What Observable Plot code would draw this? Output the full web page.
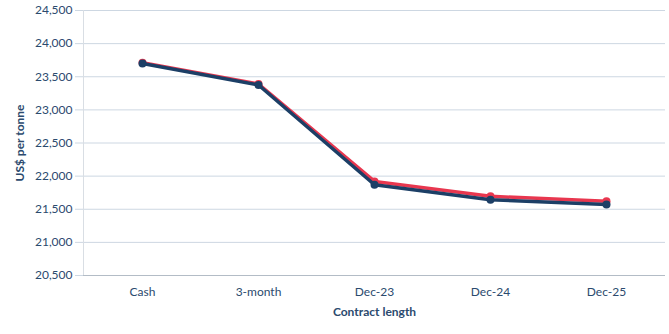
<!DOCTYPE html>
<html>
<head>
<meta charset="utf-8">
<script src="https://cdn.jsdelivr.net/npm/d3@7"></script>
<script src="https://cdn.jsdelivr.net/npm/@observablehq/plot@0.6"></script>
<style>
  html, body { margin: 0; padding: 0; background: #fff; }
  #chart svg { display: block; }
</style>
</head>
<body>
<div id="chart"></div>
<script>
const categories = ["Cash", "3-month", "Dec-23", "Dec-24", "Dec-25"];
const seriesRed = [23710, 23390, 21920, 21695, 21620];
const seriesNavy = [23700, 23375, 21870, 21645, 21570];
const yTicks = [20500, 21000, 21500, 22000, 22500, 23000, 23500, 24000, 24500];

const red = categories.map((c, i) => ({cat: c, value: seriesRed[i]}));
const navy = categories.map((c, i) => ({cat: c, value: seriesNavy[i]}));

const textColor = "#2b4a6e";
const chart = Plot.plot({
  width: 669,
  height: 334,
  marginLeft: 83,
  marginRight: 4,
  marginTop: 10,
  marginBottom: 59,
  style: {fontFamily: "Lato, sans-serif", fontSize: "12px", color: textColor, background: "#fff"},
  x: {type: "band", domain: categories, padding: 0},
  y: {domain: [20500, 24500]},
  marks: [
    Plot.ruleY(yTicks.slice(1), {stroke: "#cdd7e2", strokeWidth: 1}),
    Plot.frame({anchor: "left", stroke: "#d9dee4"}),
    Plot.ruleY([20500], {stroke: "#b3bcc6", strokeWidth: 1}),
    Plot.axisY({ticks: yTicks, tickFormat: d3.format(","), tickSize: 8, tickPadding: 3, stroke: "#cdd7e2",
      label: "US$ per tonne", labelAnchor: "center", labelArrow: "none", labelOffset: 68, fill: textColor}),
    Plot.axisX({tickSize: 0, tickPadding: 12, label: "Contract length", labelAnchor: "center", labelArrow: "none", labelOffset: 40, fill: textColor}),
    Plot.line(red, {x: "cat", y: "value", stroke: "#e8374f", strokeWidth: 3.5}),
    Plot.dot(red, {x: "cat", y: "value", fill: "#e8374f", r: 4}),
    Plot.line(navy, {x: "cat", y: "value", stroke: "#1c3f66", strokeWidth: 3.5}),
    Plot.dot(navy, {x: "cat", y: "value", fill: "#1c3f66", r: 4})
  ]
});
document.getElementById("chart").appendChild(chart);
chart.querySelectorAll("g[aria-label='y-axis label'] text, g[aria-label='x-axis label'] text").forEach(t => t.setAttribute("font-weight", "bold"));
</script>
</body>
</html>
